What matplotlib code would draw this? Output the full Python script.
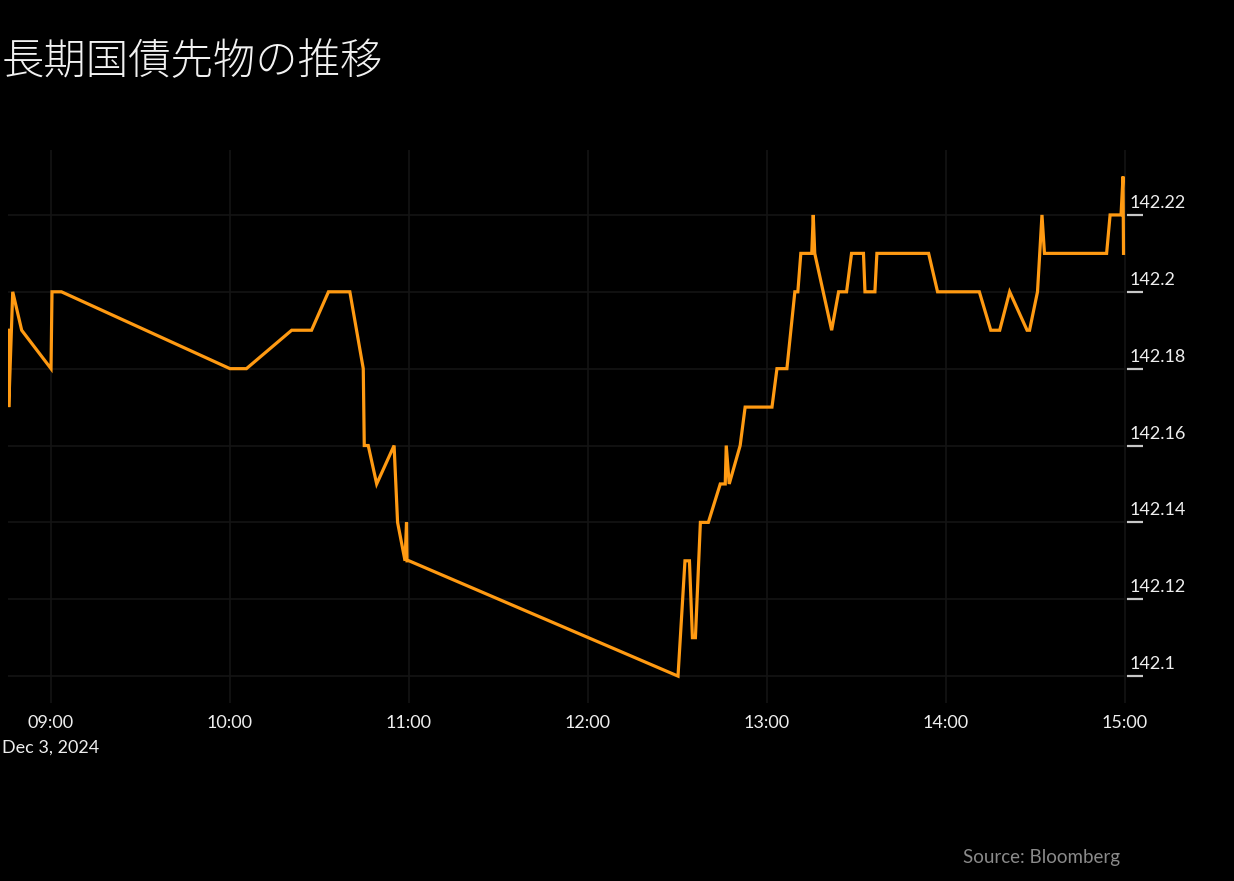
import pandas as pd
import matplotlib
matplotlib.use("Agg")
import matplotlib.pyplot as plt
import matplotlib.dates as mdates

# JGB futures, Dec 3 2024
times = ["08:45:40", "08:45:50", "08:47:10", "08:50:10", "09:00:00", "09:00:20",
         "09:03:30", "10:00:00", "10:05:30", "10:20:40", "10:27:20", "10:33:00",
         "10:40:10", "10:44:40", "10:45:00", "10:46:20", "10:49:10", "10:55:00",
         "10:56:10", "10:58:40", "10:59:10", "10:59:20", "11:00:00", "12:30:10",
         "12:32:30", "12:34:00", "12:35:00", "12:36:00", "12:37:40", "12:40:20",
         "12:44:20", "12:46:00", "12:46:20", "12:47:20", "12:51:00", "12:52:40",
         "13:01:40", "13:03:20", "13:06:40", "13:09:20", "13:10:20", "13:11:20",
         "13:15:00", "13:15:30", "13:16:00", "13:21:40", "13:24:00", "13:26:40",
         "13:28:20", "13:32:20", "13:32:50", "13:36:10", "13:36:50", "13:54:10",
         "13:57:10", "14:11:10", "14:15:00", "14:18:00", "14:21:20", "14:27:10",
         "14:28:00", "14:30:40", "14:32:10", "14:33:00", "14:53:50", "14:55:00",
         "14:58:40", "14:59:20", "14:59:30"]
prices = [142.19, 142.17, 142.20, 142.19, 142.18, 142.20,
          142.20, 142.18, 142.18, 142.19, 142.19, 142.20,
          142.20, 142.18, 142.16, 142.16, 142.15, 142.16,
          142.14, 142.13, 142.14, 142.13, 142.13, 142.10,
          142.13, 142.13, 142.11, 142.11, 142.14, 142.14,
          142.15, 142.15, 142.16, 142.15, 142.16, 142.17,
          142.17, 142.18, 142.18, 142.20, 142.20, 142.21,
          142.21, 142.22, 142.21, 142.19, 142.20, 142.20,
          142.21, 142.21, 142.20, 142.20, 142.21, 142.21,
          142.20, 142.20, 142.19, 142.19, 142.20, 142.19,
          142.19, 142.20, 142.22, 142.21, 142.21, 142.22,
          142.22, 142.23, 142.21]
yticks = [142.1, 142.12, 142.14, 142.16, 142.18, 142.2, 142.22]
ytick_labels = ["142.1", "142.12", "142.14", "142.16", "142.18", "142.2", "142.22"]
xticks = ["09:00", "10:00", "11:00", "12:00", "13:00", "14:00", "15:00"]

day = "2024-12-03 "
t = pd.to_datetime([day + s for s in times])

bg = "black"
fig = plt.figure(figsize=(12.34, 8.81), dpi=100, facecolor=bg)
ax = fig.add_axes([8 / 1234, 1 - 703 / 881, 1119 / 1234, 553 / 881], facecolor=bg)

ax.plot(t, prices, color="#ff9a12", lw=2.3, solid_joinstyle="miter")

ax.set_xlim(pd.Timestamp(day + "08:45:35"), pd.Timestamp(day + "15:00:40"))
ax.set_ylim(142.093, 142.2369)

ax.set_xticks(pd.to_datetime([day + s for s in xticks]))
ax.xaxis.set_major_formatter(mdates.DateFormatter("%H:%M"))
ax.tick_params(axis="x", length=0, pad=9, labelsize=13, labelcolor="#eeeeee")
for lbl in ax.get_xticklabels():
    lbl.set_family("Lato")

ax.yaxis.tick_right()
ax.set_yticks(yticks)
ax.set_yticklabels([])
ax.tick_params(axis="y", length=11.5, width=1.6, color="#c8c8c8")
for v, s in zip(yticks, ytick_labels):
    ax.annotate(s, xy=(1, v), xycoords=("axes fraction", "data"),
                xytext=(3, 4), textcoords="offset pixels",
                ha="left", va="bottom", fontsize=13, color="#eeeeee", family="Lato")

ax.grid(True, color="#141414", lw=1.2)
for sp in ax.spines.values():
    sp.set_visible(False)

fig.text(2 / 1234, 1 - 62 / 881, "長期国債先物の推移", fontsize=30.5, color="#f2f2f2",
         family=["Noto Sans CJK JP", "DejaVu Sans"], fontweight="light",
         ha="left", va="center")
fig.text(2 / 1234, 1 - 748 / 881, "Dec 3, 2024", fontsize=13, color="#eeeeee",
         family="Lato", ha="left", va="center")
fig.text(1120 / 1234, 1 - 857 / 881, "Source: Bloomberg", fontsize=13.5,
         color="#8a8a8a", family="Lato", ha="right", va="center")

fig.savefig("out.png", dpi=100, facecolor=bg)
